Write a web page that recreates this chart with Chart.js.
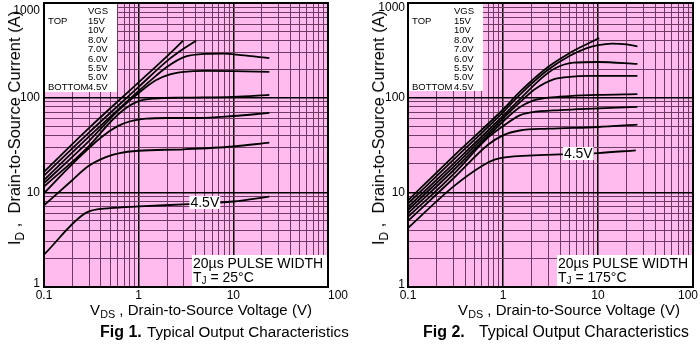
<!DOCTYPE html>
<html>
<head>
<meta charset="utf-8">
<script src="https://cdn.jsdelivr.net/npm/chart.js@4.4.1/dist/chart.umd.min.js"></script>
<style>
  body { margin: 0; background: #fff; font-family: Arial, "Liberation Sans", sans-serif; }
  #wrap { position: relative; width: 700px; height: 345px; overflow: hidden; }
  canvas { position: absolute; top: 0; }
  .t { position: absolute; white-space: nowrap; color: #000; }
  .t sub { font-size: 72%; vertical-align: -0.3em; line-height: 0; }
  .xt { top: 301px; font-size: 15px; line-height: 18px; transform: translateX(-50%); }
  .yt { top: 128px; font-size: 16.5px; line-height: 20px; transform: translate(-50%, -50%) rotate(-90deg); }
  .cap { top: 322.5px; line-height: 18px; }
  .cap b { font-size: 16px; }
</style>
</head>
<body>
<div id="wrap">
  <canvas id="fig1" width="350" height="345" style="left:0"></canvas>
  <canvas id="fig2" width="350" height="345" style="left:350px"></canvas>

  <div class="t yt" style="left:14px">I<sub>D</sub> ,&nbsp; Drain-to-Source Current (A)</div>
  <div class="t yt" style="left:378px">I<sub>D</sub> ,&nbsp; Drain-to-Source Current (A)</div>
  <div class="t xt" style="left:201px">V<sub>DS</sub> , Drain-to-Source Voltage (V)</div>
  <div class="t xt" style="left:569px">V<sub>DS</sub> , Drain-to-Source Voltage (V)</div>

  <div class="t cap" style="left:100px"><b>Fig 1.</b></div>
  <div class="t cap" style="left:147px;font-size:15.2px">Typical Output Characteristics</div>
  <div class="t cap" style="left:423px"><b>Fig 2.</b></div>
  <div class="t cap" style="left:479px;font-size:15.8px">Typical Output Characteristics</div>
</div>

<script>
// gate voltages, top to bottom
const vgsLabels = ['15V', '10V', '8.0V', '7.0V', '6.0V', '5.5V', '5.0V', '4.5V'];
const xTickLabels = ['0.1', '1', '10', '100'];
const yTickLabels = ['1', '10', '100', '1000'];

// Fig 1, TJ = 25°C : [VDS (V), ID (A)]
const fig1V15 = [[0.1, 16.5], [0.3, 48], [1, 145], [2, 275], [2.95, 400]];
const fig1V10 = [[0.1, 15], [0.3, 43], [1, 130], [2, 245], [3, 330], [4.05, 400]];
const fig1V8 = [[0.1, 13.5], [0.3, 39], [1, 118], [1.5, 168], [2, 212], [3, 268], [5, 290], [8, 292], [12, 282], [24, 262]];
const fig1V7 = [[0.1, 12.5], [0.3, 35], [0.6, 72], [1, 112], [1.5, 152], [2.1, 175], [3, 187], [5, 192], [10, 191], [24, 187]];
const fig1V6 = [[0.1, 11.5], [0.3, 31], [0.5, 55], [0.7, 75], [1, 92], [1.5, 98], [3, 100], [10, 102], [24, 107]];
const fig1V55 = [[0.1, 9.8], [0.2, 20], [0.4, 38], [0.6, 50], [0.8, 56], [1.2, 60], [2, 61], [4.4, 61], [10, 64], [24, 69]];
const fig1V5 = [[0.1, 7.3], [0.2, 13.5], [0.29, 18.7], [0.45, 23.5], [0.63, 26], [1, 27.5], [3, 28.5], [10, 30.5], [24, 33.5]];
const fig1V45 = [[0.1, 2.2], [0.28, 6.1], [0.5, 6.8], [1, 7.1], [3.4, 7.5], [10, 8], [24, 9]];

// Fig 2, TJ = 175°C
const fig2V15 = [[0.1, 8.2], [0.3, 24], [1, 75], [1.5, 115], [3, 212], [5, 295], [7.5, 365], [10.3, 425]];
const fig2V10 = [[0.1, 7.6], [0.3, 22], [1, 70], [1.5, 107], [3, 198], [5, 275], [7.5, 332], [10, 358], [14, 372], [20, 365], [26, 348]];
const fig2V8 = [[0.1, 7], [0.3, 20], [1, 64], [1.5, 96], [2.5, 158], [3.5, 203], [5.5, 234], [10, 238], [26, 227]];
const fig2V7 = [[0.1, 6.5], [0.3, 18.5], [1, 60], [1.5, 89], [2.2, 124], [3.4, 156], [5, 166], [8, 170], [26, 170]];
const fig2V6 = [[0.1, 6], [0.3, 17], [1, 56], [1.5, 79], [2, 92], [3, 100], [5, 104], [10, 107], [26, 109]];
const fig2V55 = [[0.1, 5.5], [0.3, 15.5], [0.7, 38], [1, 50], [1.5, 65], [2, 70], [4, 74], [10, 77], [26, 80]];
const fig2V5 = [[0.1, 5], [0.3, 14], [0.7, 32], [1, 40], [1.5, 45], [3, 47], [10, 49], [26, 52]];
const fig2V45 = [[0.1, 4.2], [0.3, 11.5], [0.6, 19], [0.8, 22], [1.1, 23.5], [4, 25.2], [10, 26], [25, 27.8]];

const fig1Series = [fig1V15, fig1V10, fig1V8, fig1V7, fig1V6, fig1V55, fig1V5, fig1V45];
const fig2Series = [fig2V15, fig2V10, fig2V8, fig2V7, fig2V6, fig2V55, fig2V5, fig2V45];

const FONT = 'Arial, "Liberation Sans", sans-serif';
const PINK = '#ffbbee';
const MINOR = '#6e3a62';

// 1,2,...,9 per decade for the log grid
function logTicks(from, to) {
  const out = [];
  for (let d = from; d < to * 0.999; d *= 10) {
    for (let m = 1; m < 10; m++) out.push(m * d);
  }
  out.push(to);
  return out;
}

function isDecade(v) {
  const l = Math.log10(v);
  return Math.abs(l - Math.round(l)) < 1e-6;
}

function decorPlugin(cfg) {
  return {
    id: 'decor',
    beforeDraw(chart) {
      const a = chart.chartArea, c = chart.ctx;
      c.save();
      c.fillStyle = PINK;
      c.fillRect(a.left, a.top, a.right - a.left, a.bottom - a.top);
      c.restore();
    },
    afterDatasetsDraw(chart) {
      const a = chart.chartArea, c = chart.ctx;
      const xs = chart.scales.x, ys = chart.scales.y;
      c.save();

      // VGS legend box
      c.fillStyle = '#fff';
      c.fillRect(a.left, a.top, cfg.legendW, cfg.legendH);
      c.fillStyle = '#000';
      c.font = '9.5px ' + FONT;
      c.textBaseline = 'middle';
      c.textAlign = 'left';
      const rowY = i => a.top + 8.7 + i * 9.45;
      c.fillText('VGS', a.left + cfg.colR, rowY(0));
      vgsLabels.forEach((s, i) => c.fillText(s, a.left + cfg.colR, rowY(i + 1)));
      c.fillText('TOP', a.left + 4, rowY(1));
      c.fillText('BOTTOM', a.left + 4, rowY(8));

      // 4.5V tag on the lowest curve
      c.font = '14px ' + FONT;
      const tx = xs.getPixelForValue(cfg.tagAt[0]);
      const ty = ys.getPixelForValue(cfg.tagAt[1]);
      const tw = c.measureText('4.5V').width;
      c.fillStyle = '#fff';
      c.fillRect(tx - tw / 2 - 1, ty - 6.5, tw + 2, 13);
      c.fillStyle = '#000';
      c.textAlign = 'center';
      c.fillText('4.5V', tx, ty + 0.5);

      // pulse width / temperature box
      c.fillStyle = '#fff';
      c.fillRect(a.right - 136, a.bottom - 32, 136, 32);
      c.fillStyle = '#000';
      c.textAlign = 'left';
      c.textBaseline = 'alphabetic';
      c.font = '14px ' + FONT;
      const bx = a.right - 135;
      c.fillText('20\u00b5s PULSE WIDTH', bx, a.bottom - 19);
      c.fillText('T', bx, a.bottom - 5);
      const w1 = c.measureText('T').width;
      c.font = '10px ' + FONT;
      c.fillText('J', bx + w1, a.bottom - 3);
      const w2 = c.measureText('J').width;
      c.font = '14px ' + FONT;
      c.fillText(' = ' + cfg.temp + '\u00b0C', bx + w1 + w2, a.bottom - 5);

      // frame
      c.strokeStyle = '#000';
      c.lineWidth = 2;
      c.strokeRect(a.left, a.top, a.right - a.left, a.bottom - a.top);

      // tick labels
      c.font = '12px ' + FONT;
      c.textAlign = 'center';
      c.textBaseline = 'middle';
      xTickLabels.forEach((s, i) => {
        c.fillText(s, xs.getPixelForValue(parseFloat(s)) + cfg.xShift[i], a.bottom + 9);
      });
      c.textAlign = 'right';
      yTickLabels.forEach((s, i) => {
        c.fillText(s, a.left - cfg.yGap, ys.getPixelForValue(parseFloat(s)) + cfg.yShift[i]);
      });
      c.restore();
    }
  };
}

function gridOpts() {
  return {
    drawTicks: false,
    color: ctx => (ctx.tick && isDecade(ctx.tick.value)) ? '#000' : MINOR,
    lineWidth: ctx => (ctx.tick && isDecade(ctx.tick.value)) ? 1.5 : 1
  };
}

function makeChart(id, series, cfg) {
  const xVals = logTicks(0.1, 100);
  const yVals = logTicks(1, 1000);
  return new Chart(document.getElementById(id).getContext('2d'), {
    type: 'line',
    data: {
      datasets: series.map((pts, i) => ({
        label: vgsLabels[i],
        data: pts.map(p => ({ x: p[0], y: p[1] })),
        borderColor: '#000',
        borderWidth: 1.8,
        pointRadius: 0,
        fill: false,
        cubicInterpolationMode: 'monotone'
      }))
    },
    options: {
      responsive: false,
      animation: false,
      events: [],
      layout: { padding: { left: 0, top: 3, right: cfg.padRight, bottom: 0 } },
      plugins: { legend: { display: false }, tooltip: { enabled: false } },
      scales: {
        x: {
          type: 'logarithmic',
          min: 0.1,
          max: 100,
          border: { display: false },
          grid: gridOpts(),
          ticks: { display: false },
          afterBuildTicks: s => { s.ticks = xVals.map(v => ({ value: v })); },
          afterFit: s => { s.height = 58; s.paddingLeft = 0; s.paddingRight = 0; }
        },
        y: {
          type: 'logarithmic',
          min: 1,
          max: 1000,
          border: { display: false },
          grid: gridOpts(),
          ticks: { display: false },
          afterBuildTicks: s => { s.ticks = yVals.map(v => ({ value: v })); },
          afterFit: s => { s.width = cfg.axisW; s.paddingTop = 0; s.paddingBottom = 0; }
        }
      }
    },
    plugins: [decorPlugin(cfg)]
  });
}

makeChart('fig1', fig1Series, {
  axisW: 44, padRight: 22, legendW: 73, legendH: 89, colR: 44,
  tagAt: [5, 7.8], temp: '25',
  xShift: [0, 0, 0, 10], yShift: [-3, 0, 0, 8], yGap: 4
});
makeChart('fig2', fig2Series, {
  axisW: 58, padRight: 7, legendW: 75, legendH: 88, colR: 46,
  tagAt: [6.2, 25.7], temp: '175',
  xShift: [0, 0, 0, -5], yShift: [-2, 0, 0, 4.5], yGap: 3
});
</script>
</body>
</html>
